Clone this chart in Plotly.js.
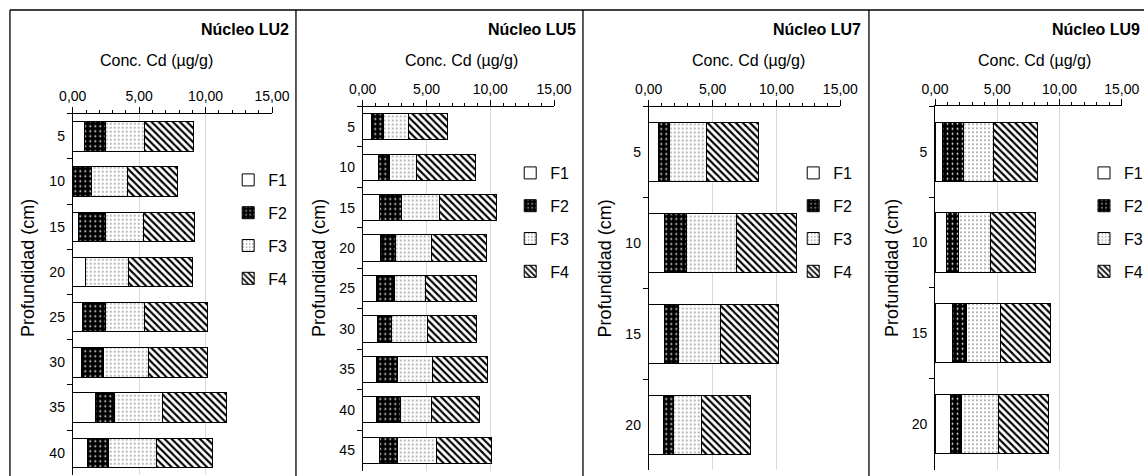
<!DOCTYPE html>
<html>
<head>
<meta charset="utf-8">
<script src="https://cdn.plot.ly/plotly-3.0.1.min.js"></script>
<style>
html,body{margin:0;padding:0;overflow:hidden;background:#fff;}
#chart{width:1148px;height:476px;}
</style>
</head>
<body>
<div id="chart"></div>
<script>
// ---- Data (Conc. Cd, µg/g) ----
const panelTitles = ['Núcleo LU2', 'Núcleo LU5', 'Núcleo LU7', 'Núcleo LU9'];
const fractionNames = ['F1', 'F2', 'F3', 'F4'];

const depthLU2 = ['5','10','15','20','25','30','35','40'];
const lu2F1 = [0.88, 0.03, 0.45, 0.93, 0.73, 0.63, 1.73, 1.08];
const lu2F2 = [1.55, 1.35, 1.98, 0.00, 1.75, 1.67, 1.45, 1.62];
const lu2F3 = [3.00, 2.72, 2.90, 3.30, 2.92, 3.38, 3.60, 3.63];
const lu2F4 = [3.65, 3.78, 3.82, 4.80, 4.73, 4.45, 4.77, 4.20];

const depthLU5 = ['5','10','15','20','25','30','35','40','45'];
const lu5F1 = [0.68, 1.20, 1.35, 1.43, 1.09, 1.15, 1.04, 1.09, 1.30];
const lu5F2 = [0.91, 0.91, 1.67, 1.17, 1.38, 1.12, 1.72, 1.88, 1.41];
const lu5F3 = [2.00, 2.13, 2.97, 2.82, 2.48, 2.81, 2.71, 2.45, 3.10];
const lu5F4 = [3.08, 4.61, 4.48, 4.29, 3.93, 3.83, 4.32, 3.75, 4.29];

const depthLU7 = ['5','10','15','20'];
const lu7F1 = [0.73, 1.25, 1.22, 1.12];
const lu7F2 = [0.88, 1.74, 1.12, 0.83];
const lu7F3 = [2.94, 3.87, 3.30, 2.16];
const lu7F4 = [4.05, 4.73, 4.50, 3.84];

const depthLU9 = ['5','10','15','20'];
const lu9F1 = [0.61, 0.93, 1.39, 1.28];
const lu9F2 = [1.69, 0.99, 1.12, 0.88];
const lu9F3 = [2.40, 2.56, 2.77, 2.96];
const lu9F4 = [3.57, 3.55, 3.98, 4.03];

const xTickVals = [0, 5, 10, 15];
const xAxisTitle = 'Conc. Cd (µg/g)';
const yAxisTitle = 'Profundidad (cm)';

// ---- Layout helpers ----
const W = 1148, H = 476;
const px = v => v / W;
const py = v => 1 - v / H;

const panels = [
  {depth: depthLU2, vals: [lu2F1, lu2F2, lu2F3, lu2F4], x0: 73, x1: 273, yT: 113.7, yB: 475.4,
   titleR: 292, concX: 157, ytX: 28, legX: 229, legY: 163},
  {depth: depthLU5, vals: [lu5F1, lu5F2, lu5F3, lu5F4], x0: 364, x1: 556, yT: 106.5, yB: 470.5,
   titleR: 580, concX: 463, ytX: 320, legX: 512, legY: 156},
  {depth: depthLU7, vals: [lu7F1, lu7F2, lu7F3, lu7F4], x0: 651, x1: 843.3, yT: 106.5, yB: 470.3,
   titleR: 866, concX: 751, ytX: 607.5, legX: 796, legY: 156},
  {depth: depthLU9, vals: [lu9F1, lu9F2, lu9F3, lu9F4], x0: 938.3, x1: 1125.7, yT: 106.3, yB: 469.5,
   titleR: 1146, concX: 1038, ytX: 895, legX: 1088, legY: 156}
];

const patterns = [
  {shape: '', bgcolor: '#ffffff'},
  {shape: '.', bgcolor: '#000000', fgcolor: '#ffffff', size: 5, solidity: 0.1, fillmode: 'replace'},
  {shape: '.', bgcolor: '#ffffff', fgcolor: '#555555', size: 4, solidity: 0.12, fillmode: 'replace'},
  {shape: '\\', bgcolor: '#ffffff', fgcolor: '#000000', size: 5, solidity: 0.42, fillmode: 'replace'}
];
const baseColors = ['#ffffff', '#000000', '#ffffff', '#ffffff'];

const tickFont = {family: '"Liberation Sans", Arial, sans-serif', size: 14, color: '#000'};
const textFont = {family: '"Liberation Sans", Arial, sans-serif', color: '#000'};

const data = [];
const layout = {
  width: W, height: H, autosize: false,
  margin: {l: 0, r: 0, t: 0, b: 0, pad: 0},
  paper_bgcolor: '#fff', plot_bgcolor: 'rgba(0,0,0,0)',
  barmode: 'stack', bargap: 0.35,
  separators: ',.',
  showlegend: true,
  annotations: [], shapes: []
};

panels.forEach((p, i) => {
  const n = i === 0 ? '' : String(i + 1);
  const legName = 'legend' + n;
  p.vals.forEach((arr, k) => {
    data.push({
      type: 'bar', orientation: 'h',
      x: arr, y: p.depth, name: fractionNames[k],
      xaxis: 'x' + n, yaxis: 'y' + n,
      legend: legName, legendgroup: 'p' + i + 'f' + k,
      marker: {color: baseColors[k], line: {color: '#000', width: 1}, pattern: patterns[k]},
      hoverinfo: 'skip'
    });
  });
  layout['xaxis' + n] = {
    domain: [px(p.x0), px(p.x1)], anchor: 'y' + n, side: 'top',
    range: [0, 15], tickvals: xTickVals, tickformat: '.2f',
    showline: true, linecolor: '#000', linewidth: 1,
    ticks: 'outside', ticklen: 6, tickcolor: '#000', tickwidth: 1,
    minor: {dtick: 1, ticks: 'outside', ticklen: 3, tickcolor: '#000', showgrid: false},
    showgrid: true, gridcolor: '#d9d9d9', gridwidth: 1, zeroline: false,
    tickfont: tickFont, fixedrange: true
  };
  layout['yaxis' + n] = {
    domain: [py(p.yB), py(p.yT)], anchor: 'x' + n, type: 'category',
    autorange: 'reversed', tickson: 'boundaries',
    showline: true, linecolor: '#000', linewidth: 1,
    ticks: 'outside', ticklen: 5, tickcolor: '#000', ticklabelstandoff: 4,
    showgrid: false, zeroline: false, tickfont: tickFont, fixedrange: true
  };
  layout[legName] = {
    x: px(p.legX), y: py(p.legY), xanchor: 'left', yanchor: 'top',
    bgcolor: 'rgba(0,0,0,0)', borderwidth: 0,
    font: Object.assign({}, tickFont, {size: 16}),
    traceorder: 'grouped', tracegroupgap: 9
  };
  layout.annotations.push(
    {text: '<b>' + panelTitles[i] + '</b>', xref: 'paper', yref: 'paper',
     x: px(p.titleR), y: py(29), xanchor: 'right', yanchor: 'middle', showarrow: false,
     font: Object.assign({size: 16}, textFont)},
    {text: xAxisTitle, xref: 'paper', yref: 'paper',
     x: px(p.concX), y: py(60), xanchor: 'center', yanchor: 'middle', showarrow: false,
     font: Object.assign({size: 16}, textFont)},
    {text: yAxisTitle, xref: 'paper', yref: 'paper', textangle: -90,
     x: px(p.ytX), y: py(268), xanchor: 'center', yanchor: 'middle', showarrow: false,
     font: Object.assign({size: 18}, textFont)}
  );
});

// panel frames
const lineStyle = {color: '#000', width: 1.3};
layout.shapes.push(
  {type: 'line', xref: 'paper', yref: 'paper', x0: px(10), x1: px(1148), y0: py(10), y1: py(10), line: lineStyle},
  {type: 'line', xref: 'paper', yref: 'paper', x0: px(10), x1: px(10), y0: py(10), y1: py(476), line: lineStyle},
  {type: 'line', xref: 'paper', yref: 'paper', x0: px(297), x1: px(297), y0: py(10), y1: py(476), line: lineStyle},
  {type: 'line', xref: 'paper', yref: 'paper', x0: px(585), x1: px(585), y0: py(10), y1: py(476), line: lineStyle},
  {type: 'line', xref: 'paper', yref: 'paper', x0: px(872), x1: px(872), y0: py(10), y1: py(476), line: lineStyle}
);

Plotly.newPlot('chart', data, layout, {staticPlot: true, displayModeBar: false});
</script>
</body>
</html>
